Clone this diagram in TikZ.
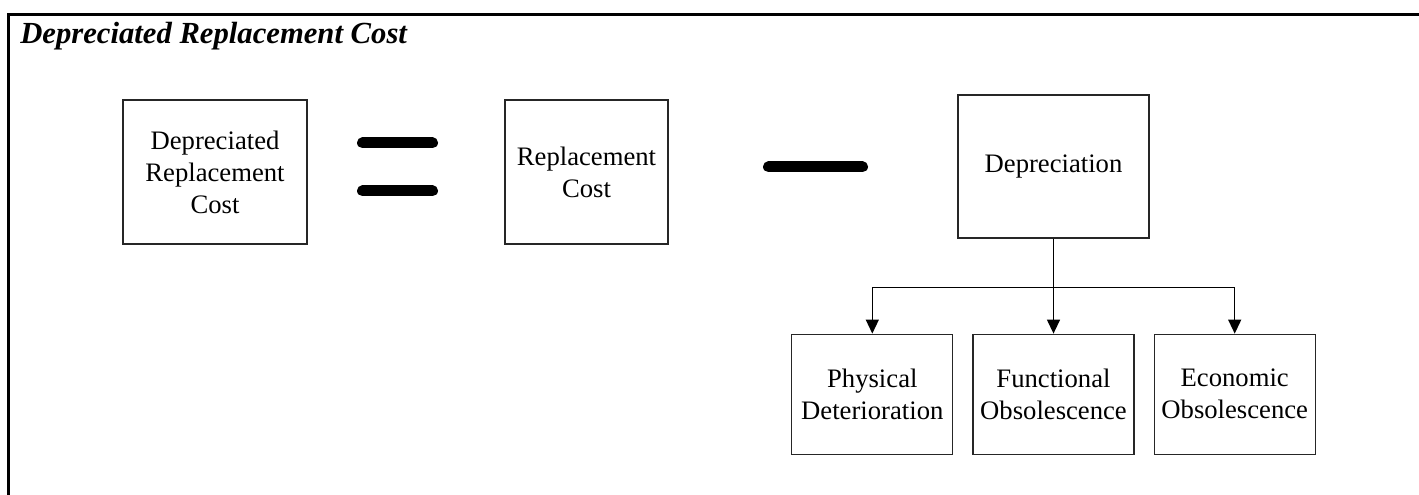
\documentclass[tikz,border=0pt]{standalone}
\usepackage{fontspec}
\setmainfont{Liberation Serif}
\usetikzlibrary{arrows.meta,positioning}

\begin{document}
\begin{tikzpicture}[x=0.75pt,y=-0.75pt,>={Triangle[width=9.75pt,length=10.5pt]},
  box/.style={draw=black!85,line width=0.9pt,align=center,inner sep=2pt,
              font=\fontsize{20}{24}\selectfont},
  bar/.style={line width=8.25pt,line cap=round},
  node distance=14.25pt]

\useasboundingbox (0,0) rectangle (1419,495);

% frame and heading
\draw[line width=2.25pt] (8.5,495) -- (8.5,14.5) -- (1419,14.5);
\node[anchor=base west,inner sep=0pt,font=\fontsize{23}{27}\selectfont\bfseries\itshape]
      (title) at (20,44) {Depreciated Replacement Cost};

% top row
\node[box,minimum width=138pt,minimum height=108pt]     (drc)  at (215,172)    {Depreciated\\Replacement\\Cost};
\node[box,minimum width=122.25pt,minimum height=108pt]  (rc)   at (586.5,172)  {Replacement\\Cost};
\node[box,minimum width=143.25pt,minimum height=107.25pt] (depr) at (1053.5,166.5) {Depreciation};

% = and -
\draw[bar] (362.5,143) -- (432.5,143);
\draw[bar] (362.5,191) -- (432.5,191);
\draw[bar] (768.5,167) -- (862.5,167);

% kinds of depreciation
\node[box,minimum width=120.75pt,minimum height=90pt] (func) [below=71.25pt of depr] {Functional\\Obsolescence};
\node[box,minimum width=120.75pt,minimum height=90pt] (phys) [left=of func]  {Physical\\Deterioration};
\node[box,minimum width=120.75pt,minimum height=90pt] (econ) [right=of func] {Economic\\Obsolescence};

\draw[->,line width=1pt] (depr.south) -- (func.north);
\draw[->,line width=1pt] (depr.south) -- ++(0,49) -| (phys.north);
\draw[->,line width=1pt] (depr.south) -- ++(0,49) -| (econ.north);

\end{tikzpicture}
\end{document}
